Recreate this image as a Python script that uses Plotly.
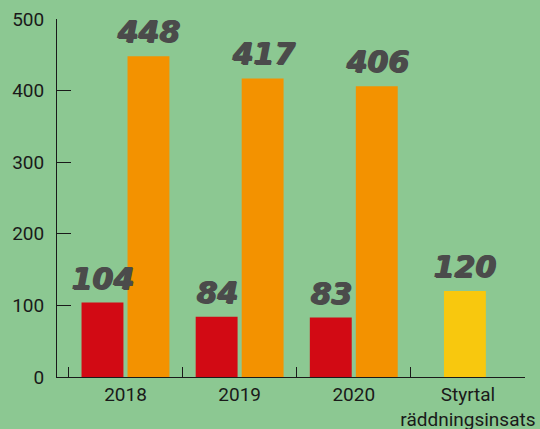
import plotly.graph_objects as go

categories = ["2018", "2019", "2020", "Styrtal<br>räddningsinsats"]
red_values = [104, 84, 83, None]
orange_values = [448, 417, 406, None]
yellow_values = [None, None, None, 120]
y_ticks = [0, 100, 200, 300, 400, 500]

BG = "#8cc892"
LABEL_COLOR = "#4b4b4b"
W = 0.367

fig = go.Figure()
series = [
    (red_values, "#d20a14", -0.385),
    (orange_values, "#f39200", 0.018),
    (yellow_values, "#f8c80e", -0.21),
]
for vals, color, off in series:
    fig.add_trace(go.Bar(
        x=categories, y=vals, marker=dict(color=color, line=dict(width=0)),
        width=W, offset=off, showlegend=False,
    ))
    for i, v in enumerate(vals):
        if v is None:
            continue
        fig.add_annotation(
            x=i + off + W / 2, y=v, xref="x", yref="y",
            text=str(v), showarrow=False, yanchor="bottom", yshift=5,
            font=dict(family="DejaVu Sans", size=30, color=LABEL_COLOR, weight="bold", style="italic",
                      shadow=f"1px 0 0 {LABEL_COLOR}, 1.5px 0.5px 0 {LABEL_COLOR}"),
        )

fig.update_layout(
    width=540, height=429,
    margin=dict(l=57, r=15, t=19, b=52, autoexpand=False),
    paper_bgcolor=BG, plot_bgcolor=BG,
    barmode="overlay",
    font=dict(family="Roboto", size=19, color="#1a1a1a"),
    xaxis=dict(
        type="category", range=[-0.6, 3.5], showgrid=False, zeroline=False,
        showline=True, linecolor="#1a1a1a", linewidth=1, automargin=False,
        ticks="inside", tickson="boundaries", ticklen=10, tickcolor="#1a1a1a",
        tickangle=0,
        tickfont=dict(family="Roboto", size=19, color="#1a1a1a"),
    ),
    yaxis=dict(
        range=[0, 500], tickvals=y_ticks, showgrid=False, zeroline=False,
        showline=True, linecolor="#1a1a1a", linewidth=1, automargin=False,
        ticks="inside", ticklen=14, tickcolor="#1a1a1a",
        ticklabelstandoff=8,
        tickfont=dict(family="Roboto", size=19, color="#1a1a1a"),
    ),
)
fig.write_html("out.html", config={"displayModeBar": False},
               post_script="document.body.style.margin='0';")
